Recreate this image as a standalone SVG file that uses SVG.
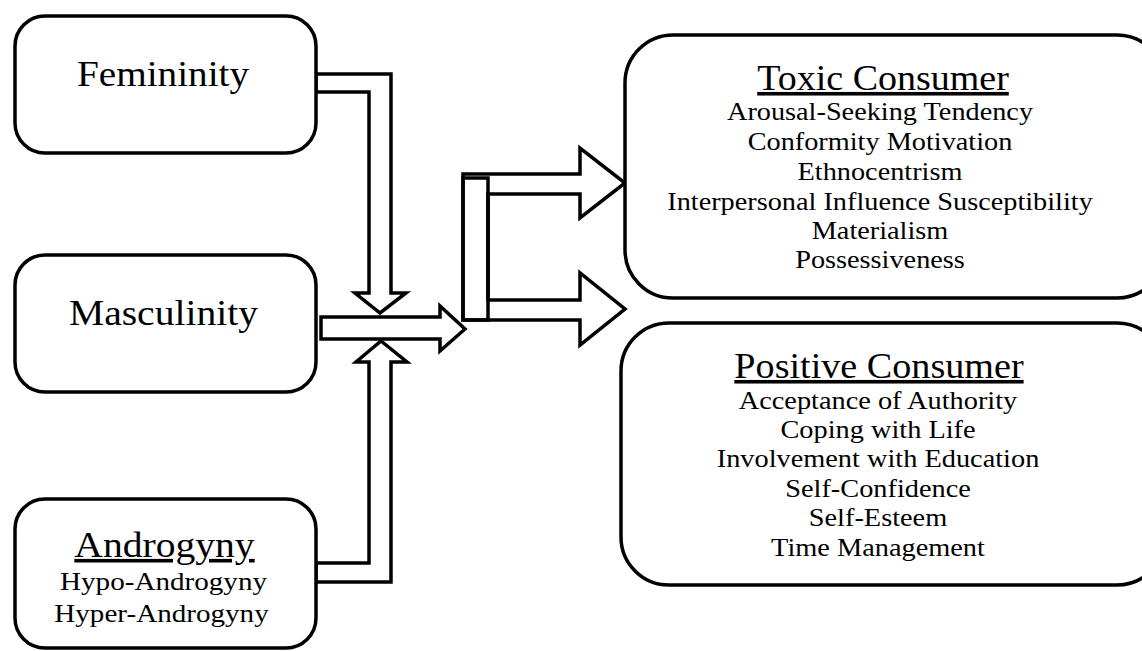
<svg xmlns="http://www.w3.org/2000/svg" width="1142" height="651" viewBox="0 0 1142 651">
<style>
.box{fill:#fff;stroke:#000;stroke-width:3.5}
.arr{fill:#fff;stroke:#000;stroke-width:3.5;stroke-linejoin:miter}
.h{font-family:"Liberation Serif","Times New Roman",serif;font-size:36px;text-anchor:middle;fill:#000}
.t{font-family:"Liberation Serif","Times New Roman",serif;font-size:26px;text-anchor:middle;fill:#000}
.u{text-decoration:underline}
</style>
<rect width="1142" height="651" fill="#fff"/>
<g id="connectors">
<polygon class="arr" points="316,74 391,74 391,293 406,293 380,313 355,293 369,293 369,92 316,92"/>
<polygon class="arr" points="321,317 440,317 440,306 465,329 440,351 440,339 321,339"/>
<polygon class="arr" points="316,563 369,563 369,362 356,362 381,341 407,362 391,362 391,582 316,582"/>
<polygon class="arr" points="463,174 580,174 580,148 625,183 580,218 580,194 488,194 488,300 580,300 580,273 625,309 580,345 580,320 463,320"/>
<rect class="arr" x="463" y="178" width="25" height="142" style="fill:none"/>
</g>
<g id="femininity">
<rect class="box" x="15" y="16" width="301" height="137" rx="30"/>
<text class="h" transform="translate(163,86) scale(1.09,1)">Femininity</text>
</g>
<g id="masculinity">
<rect class="box" x="15" y="255" width="301" height="137" rx="30"/>
<text class="h" transform="translate(163.5,325) scale(1.1,1)">Masculinity</text>
</g>
<g id="androgyny">
<rect class="box" x="15" y="499" width="301" height="149" rx="30"/>
<text class="h u" transform="translate(164.5,557) scale(1.1,1)">Androgyny</text>
<text class="t" transform="translate(163.5,590) scale(1.12,1)">Hypo-Androgyny</text>
<text class="t" transform="translate(161.5,622) scale(1.12,1)">Hyper-Androgyny</text>
</g>
<g id="toxic">
<rect class="box" x="625" y="35" width="540" height="263" rx="48"/>
<text class="h u" transform="translate(883,90) scale(1.055,1)">Toxic Consumer</text>
<g transform="translate(880,0) scale(1.088,1)">
<text class="t" x="0" y="120">Arousal-Seeking Tendency</text>
<text class="t" x="0" y="150">Conformity Motivation</text>
<text class="t" x="0" y="180">Ethnocentrism</text>
<text class="t" x="0" y="210">Interpersonal Influence Susceptibility</text>
<text class="t" x="0" y="239">Materialism</text>
<text class="t" x="0" y="268">Possessiveness</text>
</g>
</g>
<g id="positive">
<rect class="box" x="621" y="323" width="544" height="262" rx="48"/>
<text class="h u" transform="translate(879,378) scale(1.06,1)">Positive Consumer</text>
<g transform="translate(878,0) scale(1.09,1)">
<text class="t" x="0" y="409">Acceptance of Authority</text>
<text class="t" x="0" y="438">Coping with Life</text>
<text class="t" x="0" y="467">Involvement with Education</text>
<text class="t" x="0" y="497">Self-Confidence</text>
<text class="t" x="0" y="526">Self-Esteem</text>
<text class="t" x="0" y="556">Time Management</text>
</g>
</g>
</svg>
